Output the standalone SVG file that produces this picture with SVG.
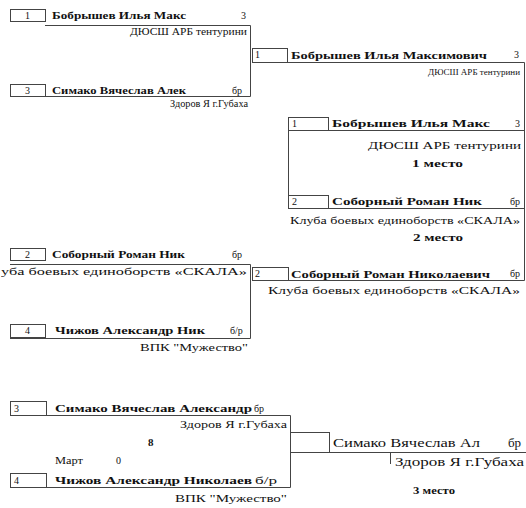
<svg xmlns="http://www.w3.org/2000/svg" width="526" height="508" viewBox="0 0 526 508">
<style>
  .bg{fill:#fff}
  .box{fill:none;stroke:#444;stroke-width:1}
  .ln{stroke:#444;stroke-width:1;fill:none}
  text{font-family:'Liberation Serif',serif;fill:#111}
  .nm{font-size:11px;font-weight:bold}
  .cl{font-size:10px}
  .cs{font-size:9px}
  .num{font-size:10px}
  .big{font-size:13px}
  .pl{font-size:11px;font-weight:bold}
</style>
<rect class="bg" x="0" y="0" width="526" height="508"/>

<g id="connectors">
  <line class="ln" x1="45" y1="25.5" x2="250.5" y2="25.5"/>
  <line class="ln" x1="250.5" y1="25.5" x2="250.5" y2="96.5"/>
  <line class="ln" x1="10" y1="96.5" x2="250.5" y2="96.5"/>
  <line class="ln" x1="252" y1="62.5" x2="524.5" y2="62.5"/>
  <line class="ln" x1="524.5" y1="62.5" x2="524.5" y2="280.5"/>
  <line class="ln" x1="252" y1="280.5" x2="524.5" y2="280.5"/>
  <line class="ln" x1="288.5" y1="117" x2="288.5" y2="208.5"/>
  <line class="ln" x1="288.5" y1="130.5" x2="524.5" y2="130.5"/>
  <line class="ln" x1="288.5" y1="208.5" x2="524.5" y2="208.5"/>
  <line class="ln" x1="10" y1="264.5" x2="250.5" y2="264.5"/>
  <line class="ln" x1="250.5" y1="264.5" x2="250.5" y2="338.5"/>
  <line class="ln" x1="10" y1="338.5" x2="250.5" y2="338.5"/>
  <line class="ln" x1="10" y1="415.5" x2="290.5" y2="415.5"/>
  <line class="ln" x1="290.5" y1="415.5" x2="290.5" y2="487.5"/>
  <line class="ln" x1="10" y1="487.5" x2="290.5" y2="487.5"/>
  <line class="ln" x1="290.5" y1="452.5" x2="526" y2="452.5"/>
  <line class="ln" x1="390.5" y1="452.5" x2="390.5" y2="464"/>
</g>

<g id="a1">
  <rect class="box" x="10.5" y="9.5" width="35" height="12"/>
  <text class="num" x="27.5" y="19" text-anchor="middle">1</text>
  <text class="nm" x="52" y="19" textLength="134" lengthAdjust="spacingAndGlyphs">Бобрышев Илья Макс</text>
  <text class="num" x="241" y="19">3</text>
  <text class="cl" x="130" y="35" textLength="117" lengthAdjust="spacingAndGlyphs">ДЮСШ АРБ тентурини</text>
</g>
<g id="a2">
  <rect class="box" x="10.5" y="84.5" width="35" height="12"/>
  <text class="num" x="27.5" y="94" text-anchor="middle">3</text>
  <text class="nm" x="52" y="94" textLength="134" lengthAdjust="spacingAndGlyphs">Симако Вячеслав Алек</text>
  <text class="num" x="232" y="94">бр</text>
  <text class="cl" x="170" y="107" textLength="78" lengthAdjust="spacingAndGlyphs">Здоров Я г.Губаха</text>
</g>

<g id="r2top">
  <rect class="box" x="252.5" y="48.5" width="35" height="14"/>
  <text class="num" x="255" y="58">1</text>
  <text class="nm" x="291" y="59" textLength="196" lengthAdjust="spacingAndGlyphs">Бобрышев Илья Максимович</text>
  <text class="num" x="514" y="58">3</text>
  <text class="cs" x="428" y="75" textLength="92" lengthAdjust="spacingAndGlyphs">ДЮСШ АРБ тентурини</text>
</g>

<g id="final1">
  <rect class="box" x="288.5" y="117.5" width="40" height="13"/>
  <text class="num" x="292" y="127">1</text>
  <text class="nm" x="332" y="127" textLength="158" lengthAdjust="spacingAndGlyphs">Бобрышев Илья Макс</text>
  <text class="num" x="515" y="127">3</text>
  <text class="cl" x="368" y="149" textLength="153" lengthAdjust="spacingAndGlyphs">ДЮСШ АРБ тентурини</text>
  <text class="pl" x="412" y="167" textLength="51" lengthAdjust="spacingAndGlyphs">1 место</text>
</g>

<g id="final2">
  <rect class="box" x="288.5" y="195.5" width="40" height="13"/>
  <text class="num" x="292" y="205">2</text>
  <text class="nm" x="332" y="205" textLength="150" lengthAdjust="spacingAndGlyphs">Соборный Роман Ник</text>
  <text class="num" x="510" y="205">бр</text>
  <text class="cl" x="290" y="224" textLength="230" lengthAdjust="spacingAndGlyphs">Клуба боевых единоборств «СКАЛА»</text>
  <text class="pl" x="413" y="241" textLength="50" lengthAdjust="spacingAndGlyphs">2 место</text>
</g>

<g id="r2bottom">
  <rect class="box" x="252.5" y="267.5" width="36" height="13"/>
  <text class="num" x="255" y="277">2</text>
  <text class="nm" x="291" y="278" textLength="199" lengthAdjust="spacingAndGlyphs">Соборный Роман Николаевич</text>
  <text class="num" x="510" y="277">бр</text>
  <text class="cl" x="268" y="294" textLength="252" lengthAdjust="spacingAndGlyphs">Клуба боевых единоборств «СКАЛА»</text>
</g>

<g id="b1">
  <rect class="box" x="10.5" y="248.5" width="35" height="12"/>
  <text class="num" x="27.5" y="258" text-anchor="middle">2</text>
  <text class="nm" x="52" y="258" textLength="133" lengthAdjust="spacingAndGlyphs">Соборный Роман Ник</text>
  <text class="num" x="232" y="258">бр</text>
  <text class="cl" x="1" y="275" textLength="246" lengthAdjust="spacingAndGlyphs">уба боевых единоборств «СКАЛА»</text>
</g>
<g id="b2">
  <rect class="box" x="10.5" y="324.5" width="35" height="13"/>
  <text class="num" x="27.5" y="334" text-anchor="middle">4</text>
  <text class="nm" x="55" y="334" textLength="150" lengthAdjust="spacingAndGlyphs">Чижов Александр Ник</text>
  <text class="num" x="230" y="334">б/р</text>
  <text class="cl" x="140" y="351" textLength="108" lengthAdjust="spacingAndGlyphs">ВПК "Мужество"</text>
</g>

<g id="c1">
  <rect class="box" x="10.5" y="401.5" width="36" height="14"/>
  <text class="num" x="14" y="412">3</text>
  <text class="nm" x="55" y="412" textLength="197" lengthAdjust="spacingAndGlyphs">Симако Вячеслав Александр</text>
  <text class="num" x="254" y="412">бр</text>
  <text class="cl" x="180" y="428" textLength="107" lengthAdjust="spacingAndGlyphs">Здоров Я г.Губаха</text>
</g>
<g id="c-mid">
  <text class="pl" x="148" y="446">8</text>
  <text class="cl" x="55" y="464" textLength="28" lengthAdjust="spacingAndGlyphs">Март</text>
  <text class="cl" x="116" y="464">0</text>
</g>
<g id="c2">
  <rect class="box" x="10.5" y="473.5" width="36" height="14"/>
  <text class="num" x="14" y="484">4</text>
  <text class="nm" x="55" y="484" textLength="197" lengthAdjust="spacingAndGlyphs">Чижов Александр Николаев</text>
  <text class="num" x="255" y="484" textLength="22" lengthAdjust="spacingAndGlyphs">б/р</text>
  <text class="cl" x="175" y="502" textLength="112" lengthAdjust="spacingAndGlyphs">ВПК "Мужество"</text>
</g>

<g id="third">
  <rect class="box" x="290.5" y="432.5" width="39" height="20"/>
  <text class="big" x="333" y="447" textLength="147" lengthAdjust="spacingAndGlyphs">Симако Вячеслав Ал</text>
  <text class="big" x="508" y="447">бр</text>
  <text class="big" x="395" y="466" textLength="129" lengthAdjust="spacingAndGlyphs">Здоров Я г.Губаха</text>
  <text class="pl" x="413" y="494" textLength="42" lengthAdjust="spacingAndGlyphs">3 место</text>
</g>
</svg>
